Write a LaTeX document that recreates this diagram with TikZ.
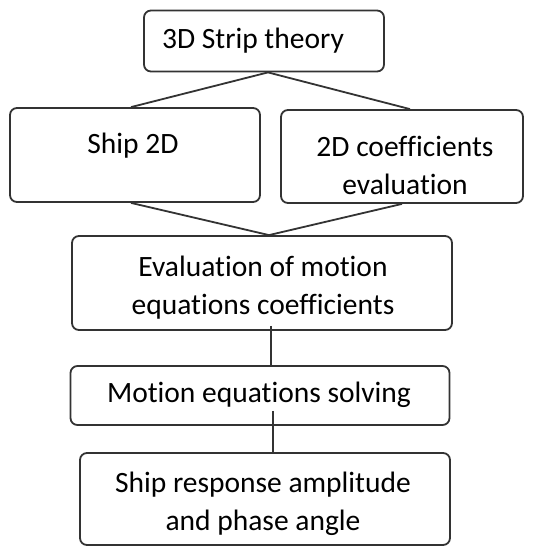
\documentclass[tikz,border=0pt]{standalone}
\usepackage{fontspec}
\setmainfont{Carlito}[Ligatures=NoCommon]
\usetikzlibrary{positioning}

\begin{document}
\begin{tikzpicture}[x=1pt,y=-1pt,
  box/.style={draw=black!80,line width=1.8pt,rounded corners=7pt},
  txt/.style={align=center,inner sep=0pt,font=\fontsize{29.5}{38}\selectfont},
  link/.style={draw=black!80,line width=1.8pt}]
\useasboundingbox (0,0) rectangle (540,547);
\path
(264,41)    node[box,minimum width=240,minimum height=61] (strip) {}
(253,41)    node[txt] (stripT) {3D Strip theory}
(135,155)   node[box,minimum width=250,minimum height=94] (ship) {}
(133,146)   node[txt] (shipT) {Ship 2D}
(402,156.5) node[box,minimum width=242,minimum height=93] (coef) {}
(405,165)   node[txt] (coefT) {2D coefficients\\evaluation}
(262,283)   node[box,minimum width=380,minimum height=94] (eval) {}
(263,288)   node[txt] (evalT) {Evaluation of motion\\equations coefficients}
(260,395.5) node[box,minimum width=379,minimum height=59] (motion) {}
(259,395)   node[txt] (motionT) {Motion equations solving}
(265,499)   node[box,minimum width=370,minimum height=92] (resp) {}
(263,504)   node[txt] (respT) {Ship response amplitude\\and phase angle};

% branches
\draw[link] ([xshift=-4]ship.north) -- ([xshift=4]strip.south) -- ([xshift=8]coef.north);
\draw[link] ([xshift=-4]ship.south) -- ([xshift=7]eval.north) -- (coef.south);
% chain
\draw[link] ([xshift=9,yshift=5]eval.south) -- ([xshift=11]motion.north);
\draw[link] ([xshift=13,yshift=15]motion.south) -- ([xshift=8]resp.north);
\end{tikzpicture}
\end{document}
